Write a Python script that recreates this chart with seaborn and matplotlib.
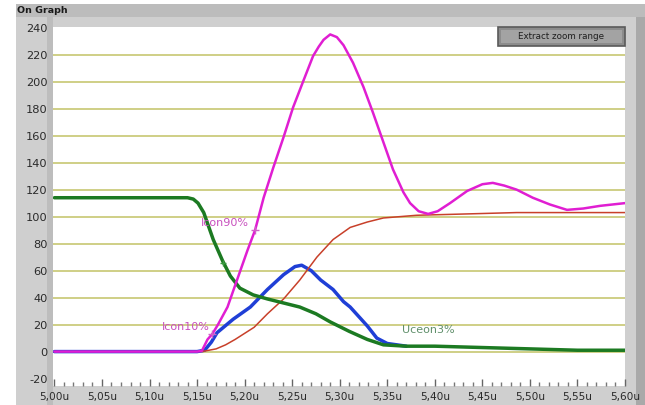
import numpy as np
import pandas as pd
import matplotlib
matplotlib.use("Agg")
import matplotlib.pyplot as plt
from matplotlib.patches import Rectangle
from matplotlib.ticker import MultipleLocator
import seaborn as sns

# ---- data (time in microseconds) ----
icon_t = [5.00, 5.05, 5.10, 5.15, 5.155, 5.161, 5.166, 5.172, 5.182, 5.192, 5.203, 5.211,
          5.220, 5.230, 5.241, 5.251, 5.262, 5.272, 5.278, 5.283, 5.290, 5.297, 5.304, 5.314,
          5.325, 5.335, 5.346, 5.356, 5.367, 5.374, 5.383, 5.393, 5.403, 5.416, 5.434,
          5.450, 5.461, 5.473, 5.486, 5.503, 5.521, 5.539, 5.556, 5.574, 5.600]
icon_v = [0, 0, 0, 0, 0.5, 9, 13, 20, 33, 53, 75, 90,
          114, 136, 159, 181, 201, 219, 226, 231, 235, 233, 227, 214,
          196, 177, 155, 135, 118, 110, 104, 102, 104, 110, 119,
          124, 125, 123, 120, 114, 109, 105, 106, 108, 110]

uce_t = [5.00, 5.05, 5.10, 5.14, 5.146, 5.151, 5.157, 5.167, 5.177, 5.185, 5.195, 5.209, 5.224,
         5.241, 5.258, 5.275, 5.290, 5.310, 5.329, 5.346, 5.370, 5.400, 5.450, 5.500,
         5.550, 5.600]
uce_v = [114, 114, 114, 114, 113, 110, 103, 83, 67, 56, 47, 42, 39,
         36, 33, 28, 22, 15, 9, 5, 4, 4, 3, 2,
         1, 1]

blue_t = [5.00, 5.05, 5.10, 5.15, 5.158, 5.165, 5.171, 5.188, 5.206, 5.224, 5.241, 5.253,
          5.260, 5.270, 5.280, 5.293, 5.304, 5.311, 5.320, 5.329, 5.339, 5.350, 5.370]
blue_v = [0, 0, 0, 0, 1, 7, 14, 24, 33, 46, 57, 63,
          64, 60, 53, 46, 37, 33, 26, 19, 10, 6, 4]

red_t = [5.155, 5.170, 5.180, 5.190, 5.210, 5.224, 5.241, 5.258, 5.276, 5.293, 5.311,
         5.329, 5.346, 5.381, 5.434, 5.486, 5.600]
red_v = [0, 2, 5, 9, 18, 28, 39, 53, 70, 83, 92,
         96, 99, 101, 102, 103, 103]

y_ticks = [-20, 0, 20, 40, 60, 80, 100, 120, 140, 160, 180, 200, 220, 240]
x_ticks = [5.00, 5.05, 5.10, 5.15, 5.20, 5.25, 5.30, 5.35, 5.40, 5.45, 5.50, 5.55, 5.60]

# ---- figure ----
sns.set_theme(style="white")
plt.rcParams['font.family'] = ['DejaVu Sans']

W, H = 645, 405
fig = plt.figure(figsize=(W / 100, H / 100), dpi=100, facecolor="white")

def fx(px):
    return px / W

def fy(py):
    return 1 - py / H

def bg_rect(x0, y0, x1, y1, color, z=0, **kw):
    r = Rectangle((fx(x0), fy(y1)), fx(x1 - x0), (y1 - y0) / H, transform=fig.transFigure,
                  facecolor=color, zorder=z, **kw)
    fig.patches.append(r)
    return r

# gray frame panels
bg_rect(16, 4, 645, 405, "#cfcfcf", z=0, edgecolor="none")
bg_rect(16, 4, 645, 17, "#bcbcbc", z=0.1, edgecolor="none")
bg_rect(47, 17, 53, 405, "#bdbdbd", z=0.1, edgecolor="none")
bg_rect(636, 17, 645, 405, "#a9a9a9", z=0.1, edgecolor="none")
fig.text(fx(17), fy(10.5), "On Graph", fontsize=6.8, fontweight="bold", color="#1a1a1a",
         ha="left", va="center", zorder=0.5)

ax = fig.add_axes([fx(53), fy(386), fx(625 - 53), (386 - 27) / H])
ax.set_zorder(2)
ax.set_facecolor("white")

sns.lineplot(x=blue_t, y=blue_v, ax=ax, color="#1f3fd6", linewidth=2.5, zorder=3)
sns.lineplot(x=red_t, y=red_v, ax=ax, color="#c8402a", linewidth=1.1, zorder=4)
sns.lineplot(x=uce_t, y=uce_v, ax=ax, color="#1c7a22", linewidth=2.5, zorder=5)
sns.lineplot(x=icon_t, y=icon_v, ax=ax, color="#e01ed2", linewidth=1.8, zorder=6)

# cursors
ax.plot([5.166], [13], marker="+", color="#d060c8", markersize=6, zorder=7)
ax.plot([5.211], [90], marker="+", color="#d060c8", markersize=6, zorder=7)
ax.plot([5.177], [66], marker="+", color="#3a9a40", markersize=5, zorder=7)
ax.text(5.163, 18.5, "Icon10%", color="#c850be", fontsize=8, ha="right", va="center", zorder=8)
ax.text(5.204, 95, "Icon90%", color="#c850be", fontsize=8, ha="right", va="center", zorder=8)
ax.text(5.366, 16.3, "Uceon3%", color="#5f8f6a", fontsize=8, ha="left", va="center", zorder=8)

ax.set_xlim(4.9985, 5.600)
ax.set_ylim(-25.5, 240.5)
for v in y_ticks:
    if 0 <= v <= 220:
        ax.axhline(v, color="#cfcf86", linewidth=1.4, zorder=1)

ax.set_yticks(y_ticks)
ax.set_yticklabels([str(v) for v in y_ticks])
ax.set_xticks(x_ticks)
ax.set_xticklabels([f"{v:.2f}".replace(".", ",") + "u" for v in x_ticks])
ax.xaxis.set_minor_locator(MultipleLocator(0.01))
ax.tick_params(axis="x", which="major", direction="in", length=5, width=1, color="#666666",
               labelsize=7.6, labelcolor="#2a2a2a", pad=4, bottom=True)
ax.tick_params(axis="x", which="minor", direction="in", length=3, width=1, color="#777777",
               bottom=True)
ax.tick_params(axis="y", which="major", length=0, labelsize=8.2, labelcolor="#2a2a2a", pad=4)
ax.set_xlabel("")
ax.set_ylabel("")
for s in ax.spines.values():
    s.set_visible(False)
ax.grid(False)

# button "Extract zoom range"
bx0, by0, bx1, by1 = 498, 27, 625, 46
bg_rect(bx0, by0, bx1, by1, "#8c8c8c", z=10, edgecolor="#5a5a5a", linewidth=1.2)
bg_rect(bx0 + 3, by0 + 3, bx1 - 3, by1 - 3, "#a3a3a3", z=10.5, edgecolor="none")
fig.text(fx((bx0 + bx1) / 2), fy((by0 + by1) / 2), "Extract zoom range", fontsize=6.3,
         color="#1e1e1e", ha="center", va="center", zorder=11)

fig.savefig("out.png", dpi=100, facecolor=fig.get_facecolor())
